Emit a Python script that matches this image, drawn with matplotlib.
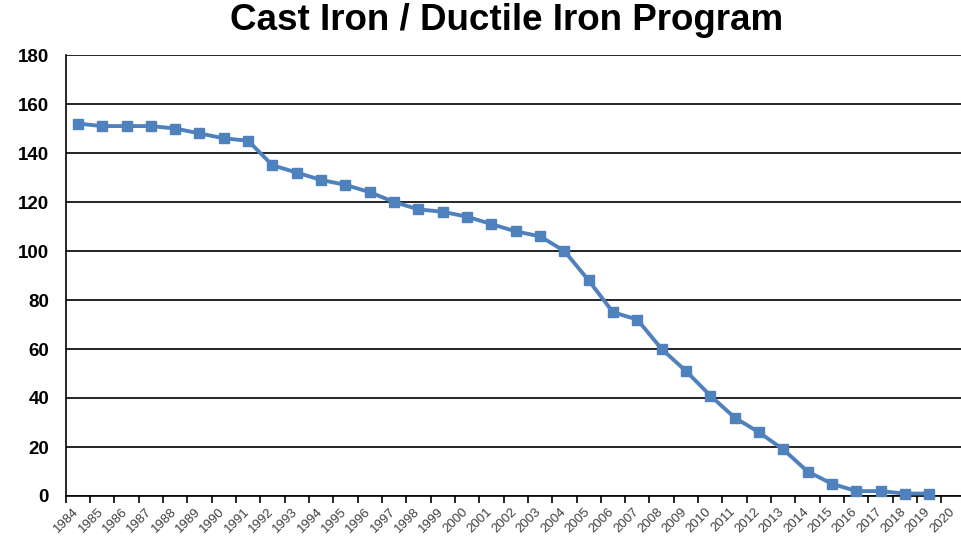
import matplotlib.pyplot as plt
import matplotlib.transforms as mtransforms
from matplotlib.ticker import FixedLocator

plt.rcParams["font.family"] = ["Liberation Sans", "DejaVu Sans"]

years = [str(y) for y in range(1984, 2021)]
counts = [152, 151, 151, 151, 150, 148, 146, 145, 135, 132, 129, 127, 124, 120,
          117, 116, 114, 111, 108, 106, 100, 88, 75, 72, 60, 51, 41, 32, 26, 19,
          10, 5, 2, 2, 1, 1]

fig = plt.figure(figsize=(9.61, 5.37), dpi=100)
ax = fig.add_axes([65.7 / 961, 1 - 496 / 537, 900 / 961, 441 / 537])

x = list(range(len(counts)))
ax.plot(x, counts, color="#4F81BD", lw=2.8, marker="s", ms=7.5, zorder=3,
        clip_on=False)

ax.set_xlim(-0.5, len(years) - 0.5)
ax.set_ylim(0, 180)
ax.set_yticks(range(0, 181, 20))
ax.yaxis.grid(True, color="black", lw=1.2)
ax.set_axisbelow(True)

ax.set_xticks(range(len(years)))
ax.set_xticklabels(years, rotation=45, ha="right", rotation_mode="anchor",
                   fontsize=9.5, color="#404040")
ax.xaxis.set_minor_locator(FixedLocator([i - 0.5 for i in range(len(years) + 1)]))
ax.tick_params(axis="x", which="major", length=0, pad=7)
ax.tick_params(axis="x", which="minor", length=5, width=1.2, color="black")
ax.tick_params(axis="y", length=0, pad=12, labelsize=13.5)
for lab in ax.get_yticklabels():
    lab.set_fontweight("bold")

offset = mtransforms.ScaledTranslation(-5 / 100, 0, fig.dpi_scale_trans)
for lab in ax.get_xticklabels():
    lab.set_transform(lab.get_transform() + offset)

for s in ["top", "right"]:
    ax.spines[s].set_visible(False)
ax.spines["left"].set_linewidth(1.2)
ax.spines["bottom"].set_linewidth(1.2)

fig.text(507 / 961, 1 - 21 / 537, "Cast Iron / Ductile Iron Program",
         ha="center", va="center", fontsize=26.5, fontweight="bold")

fig.savefig("out.png", dpi=100)
